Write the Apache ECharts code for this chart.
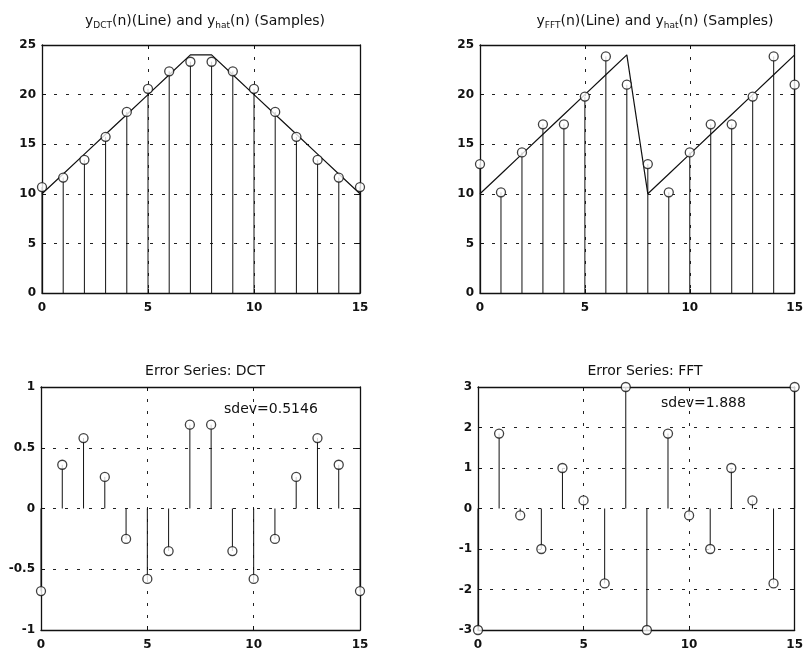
<!DOCTYPE html>
<html>
<head>
<meta charset="utf-8">
<script src="https://cdn.jsdelivr.net/npm/echarts@6/dist/echarts.min.js"></script>
<style>
  html, body { margin: 0; padding: 0; background: #fff; }
  #chart { width: 806px; height: 651px; }
</style>
</head>
<body>
<div id="chart"></div>
<script>
// sample index n
const nIdx = [0, 1, 2, 3, 4, 5, 6, 7, 8, 9, 10, 11, 12, 13, 14, 15]
// original ramp signals (lines)
const yDctLine = [10, 12, 14, 16, 18, 20, 22, 24, 24, 22, 20, 18, 16, 14, 12, 10]
const yFftLine = [10, 12, 14, 16, 18, 20, 22, 24, 10, 12, 14, 16, 18, 20, 22, 24]
// reconstructed samples
const yHatDct = [10.68, 11.64, 13.42, 15.74, 18.25, 20.58, 22.35, 23.31, 23.31, 22.35, 20.58, 18.25, 15.74, 13.42, 11.64, 10.68]
const yHatFft = [13, 10.15, 14.17, 17, 17, 19.8, 23.85, 21, 13, 10.15, 14.17, 17, 17, 19.8, 23.85, 21]
// error series
const errDct = [-0.68, 0.36, 0.58, 0.26, -0.25, -0.58, -0.35, 0.69, 0.69, -0.35, -0.58, -0.25, 0.26, 0.58, 0.36, -0.68]
const errFft = [-3, 1.85, -0.17, -1, 1, 0.2, -1.85, 3, -3, 1.85, -0.17, -1, 1, 0.2, -1.85, 3]
// text
const panelTitles = [
  'y{s|DCT}(n)(Line) and y{s|hat}(n) (Samples)',
  'y{s|FFT}(n)(Line) and y{s|hat}(n) (Samples)',
  'Error Series: DCT',
  'Error Series: FFT'
]
const sdevLabels = ['sdev=0.5146', 'sdev=1.888']

const FONT = 'DejaVu Sans, Liberation Sans, sans-serif'
const INK = '#111'

const grids = [
  { left: 42, top: 45, width: 318, height: 248 },
  { left: 480, top: 45, width: 320, height: 248 },
  { left: 41, top: 387, width: 319, height: 246 },
  { left: 478, top: 387, width: 321, height: 246 }
]
const yRanges = [
  { min: 0, max: 25, interval: 5 },
  { min: 0, max: 25, interval: 5 },
  { min: -1, max: 1, interval: 0.5 },
  { min: -3, max: 3, interval: 1 }
]

const gridLine = { show: true, lineStyle: { color: '#222', width: 1, type: [3, 9] } }
const frameLine = { show: true, onZero: false, lineStyle: { color: INK, width: 1.3 } }
const tickStyle = { show: true, inside: true, length: 4, lineStyle: { color: INK } }
const labelStyle = { color: INK, fontFamily: FONT, fontSize: 12, fontWeight: 'bold' }

const xAxis = []
const yAxis = []
grids.forEach((g, i) => {
  xAxis.push({
    type: 'value', gridIndex: i, min: 0, max: 15, interval: 5, position: 'bottom',
    axisLine: frameLine, axisTick: tickStyle, splitLine: gridLine,
    axisLabel: { ...labelStyle, margin: 9 }
  })
  xAxis.push({
    type: 'value', gridIndex: i, min: 0, max: 15, interval: 5, position: 'top',
    axisLine: frameLine, axisTick: tickStyle, splitLine: { show: false }, axisLabel: { show: false }
  })
  yAxis.push({
    type: 'value', gridIndex: i, ...yRanges[i], position: 'left',
    axisLine: frameLine, axisTick: tickStyle, splitLine: gridLine,
    axisLabel: { ...labelStyle, margin: 6 }
  })
  yAxis.push({
    type: 'value', gridIndex: i, ...yRanges[i], position: 'right',
    axisLine: frameLine, axisTick: tickStyle, splitLine: { show: false }, axisLabel: { show: false }
  })
})

const pairs = (ys) => nIdx.map((x, k) => [x, ys[k]])

const stemSeries = (i, ys) => ({
  type: 'custom', xAxisIndex: 2 * i, yAxisIndex: 2 * i, clip: false, silent: true,
  data: pairs(ys),
  renderItem: (params, api) => {
    const top = api.coord([api.value(0), api.value(1)])
    const base = api.coord([api.value(0), 0])
    return {
      type: 'line',
      shape: { x1: base[0], y1: base[1], x2: top[0], y2: top[1] },
      style: { stroke: INK, lineWidth: 1 }
    }
  }
})
const circleSeries = (i, ys) => ({
  type: 'scatter', xAxisIndex: 2 * i, yAxisIndex: 2 * i, clip: false, silent: true,
  symbol: 'circle', symbolSize: 9,
  itemStyle: { color: '#fff', borderColor: INK, borderWidth: 1.3 },
  data: pairs(ys), z: 5
})
const lineSeries = (i, ys) => ({
  type: 'line', xAxisIndex: 2 * i, yAxisIndex: 2 * i, showSymbol: false, silent: true,
  lineStyle: { color: INK, width: 1.2 }, data: pairs(ys), z: 4
})

const titleCenters = [200, 650, 200, 640]
const titleTops = [7, 7, 359, 359]
const title = panelTitles.map((t, i) => ({
  text: t, left: titleCenters[i], top: titleTops[i], textAlign: 'center',
  textStyle: {
    color: INK, fontFamily: FONT, fontSize: 14, fontWeight: 'normal',
    rich: { s: { fontFamily: FONT, fontSize: 9, color: INK, padding: [9, 0, 0, 0] } }
  }
}))
const sdevStyle = { color: INK, fontFamily: FONT, fontSize: 14, fontWeight: 'normal' }
title.push({ text: sdevLabels[0], left: 219, top: 397, textStyle: sdevStyle })
title.push({ text: sdevLabels[1], left: 656, top: 391, textStyle: sdevStyle })

const chart = echarts.init(document.getElementById('chart'), null, { renderer: 'canvas' })
chart.setOption({
  animation: false,
  backgroundColor: '#fff',
  title,
  grid: grids,
  xAxis,
  yAxis,
  series: [
    stemSeries(0, yHatDct), lineSeries(0, yDctLine), circleSeries(0, yHatDct),
    stemSeries(1, yHatFft), lineSeries(1, yFftLine), circleSeries(1, yHatFft),
    stemSeries(2, errDct), circleSeries(2, errDct),
    stemSeries(3, errFft), circleSeries(3, errFft)
  ]
})
</script>
</body>
</html>
